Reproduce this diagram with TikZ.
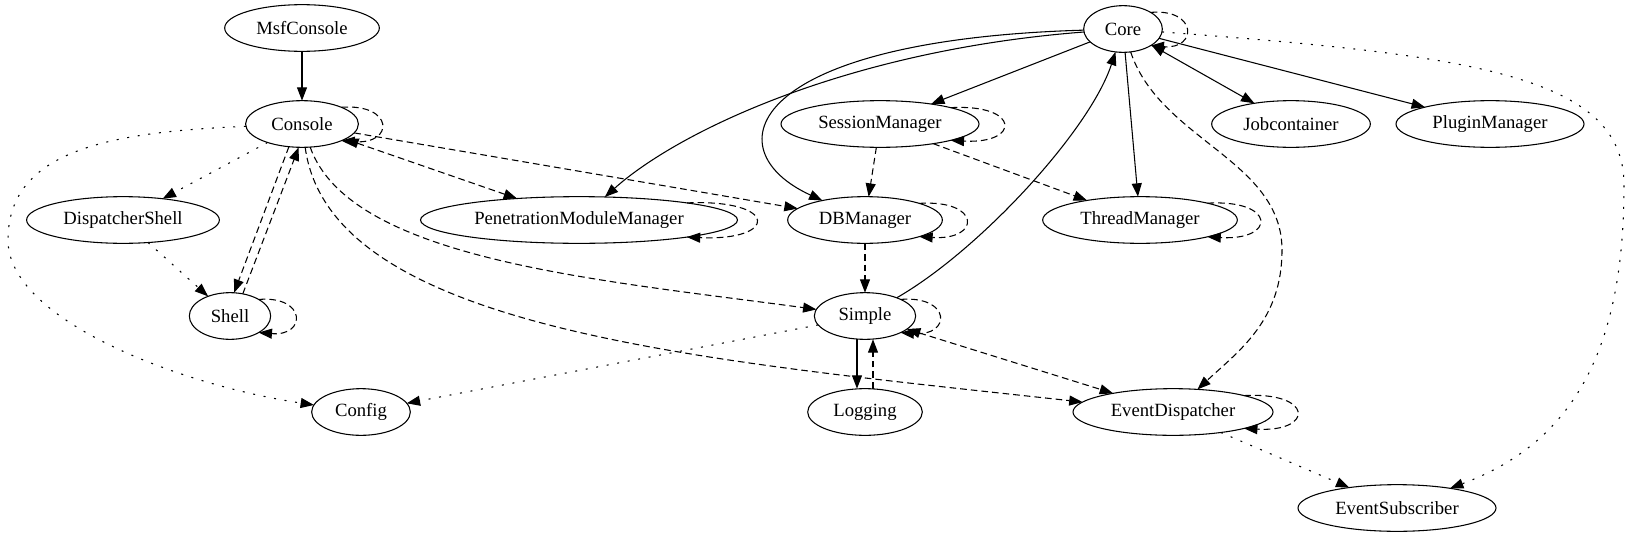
\documentclass[tikz,border=0pt]{standalone}
\usepackage{fontspec}
\setmainfont{Liberation Serif}
\usetikzlibrary{shapes.geometric,arrows.meta}

\begin{document}
\begin{tikzpicture}[x=0.75pt, y=0.75pt, >={Triangle[length=10pt,width=7.5pt]},
    cls/.style={ellipse, draw, line width=0.8pt, inner sep=0pt, outer sep=0pt,
      minimum height=35pt, font=\fontsize{14}{16}\selectfont},
    link/.style={->, line width=0.8pt},
    weak/.style={link, dash pattern=on 5pt off 3pt},
    hint/.style={link, dash pattern=on 1.5pt off 6.5pt}]
    \useasboundingbox (0,0) rectangle (1631,-539);
    % Classes, one row per rank
    \node[cls, minimum width=116pt] (msf) at (302,-28) {MsfConsole};
    \node[cls, minimum width=59pt] (core) at (1123,-29) {Core};
    \node[cls, minimum width=84.6pt] (console) at (302,-124) {Console};
    \node[cls, minimum width=148.5pt] (session) at (880,-124) {SessionManager};
    \node[cls, minimum width=119pt] (jobs) at (1291,-124) {Jobcontainer};
    \node[cls, minimum width=141pt] (plugin) at (1490,-124) {PluginManager};
    \node[cls, minimum width=144.6pt] (dshell) at (123,-220) {DispatcherShell};
    \node[cls, minimum width=237.7pt] (pmm) at (579,-220) {PenetrationModuleManager};
    \node[cls, minimum width=116pt] (db) at (865,-220) {DBManager};
    \node[cls, minimum width=146pt] (thread) at (1140,-220) {ThreadManager};
    \node[cls, minimum width=61pt] (shell) at (230,-316) {Shell};
    \node[cls, minimum width=76pt] (simple) at (865,-316) {Simple};
    \node[cls, minimum width=74pt] (config) at (361,-412) {Config};
    \node[cls, minimum width=86pt] (logging) at (865,-412) {Logging};
    \node[cls, minimum width=150pt] (evdisp) at (1173,-412) {EventDispatcher};
    \node[cls, minimum width=148.5pt] (evsub) at (1397,-508) {EventSubscriber};
    % Self references
    \foreach \n/\a/\d in {console/23/53, pmm/9/92, session/13/70, db/17/62,
      thread/14/69, core/31/47, shell/30/48, simple/25/51, evdisp/13/70} {
      \draw[weak] (\n.\a) .. controls +(\d,4) and +(\d,-4) .. (\n.-\a);
    }
    % Solid edges
    \draw[link] (msf) -- (console);
    \draw[link] (core) -- (session);
    \draw[link] (core) .. controls (850,-50) and (680,-130) .. (pmm);
    \draw[link] (core) .. controls (745,-40) and (712,-150) .. (db);
    \draw[link,<->] (core) -- (jobs);
    \draw[link] (core) -- (plugin);
    \draw[link] (core) -- (thread);
    \draw[link] (simple) .. controls (980,-250) and (1090,-130) .. (core);
    \draw[link] ([xshift=-6pt]simple.south) -- ([xshift=-6pt]logging.north);
    % Dashed edges
    \draw[weak] (console.-120) -- (shell.80);
    \draw[weak] (shell.60) -- (console.-98);
    \draw[weak,<->] (console) -- (pmm);
    \draw[weak] (console) -- (db);
    \draw[weak] (console) .. controls (350,-260) and (600,-280) .. (simple);
    \draw[weak] (console) .. controls (330,-330) and (700,-360) .. (evdisp);
    \draw[weak] (session) -- (db);
    \draw[weak] (session) -- (thread);
    \draw[weak] (db) -- (simple);
    \draw[weak] (core) .. controls (1160,-140) and (1282,-160) .. (1282,-250)
      .. controls (1282,-320) and (1240,-350) .. (evdisp);
    \draw[weak] ([xshift=6pt]logging.north) -- ([xshift=6pt]simple.south);
    \draw[weak,<->] (simple) -- (evdisp);
    % Dotted edges
    \draw[hint] (console) -- (dshell);
    \draw[hint] (dshell) -- (shell);
    \draw[hint] (console) .. controls (110,-132) and (8,-150) .. (8,-240)
      .. controls (8,-320) and (180,-385) .. (config);
    \draw[hint] (simple) -- (config);
    \draw[hint] (core) .. controls (1470,-55) and (1624,-75) .. (1624,-185)
      .. controls (1624,-340) and (1580,-440) .. (evsub);
    \draw[hint] (evdisp) -- (evsub);
\end{tikzpicture}
\end{document}
